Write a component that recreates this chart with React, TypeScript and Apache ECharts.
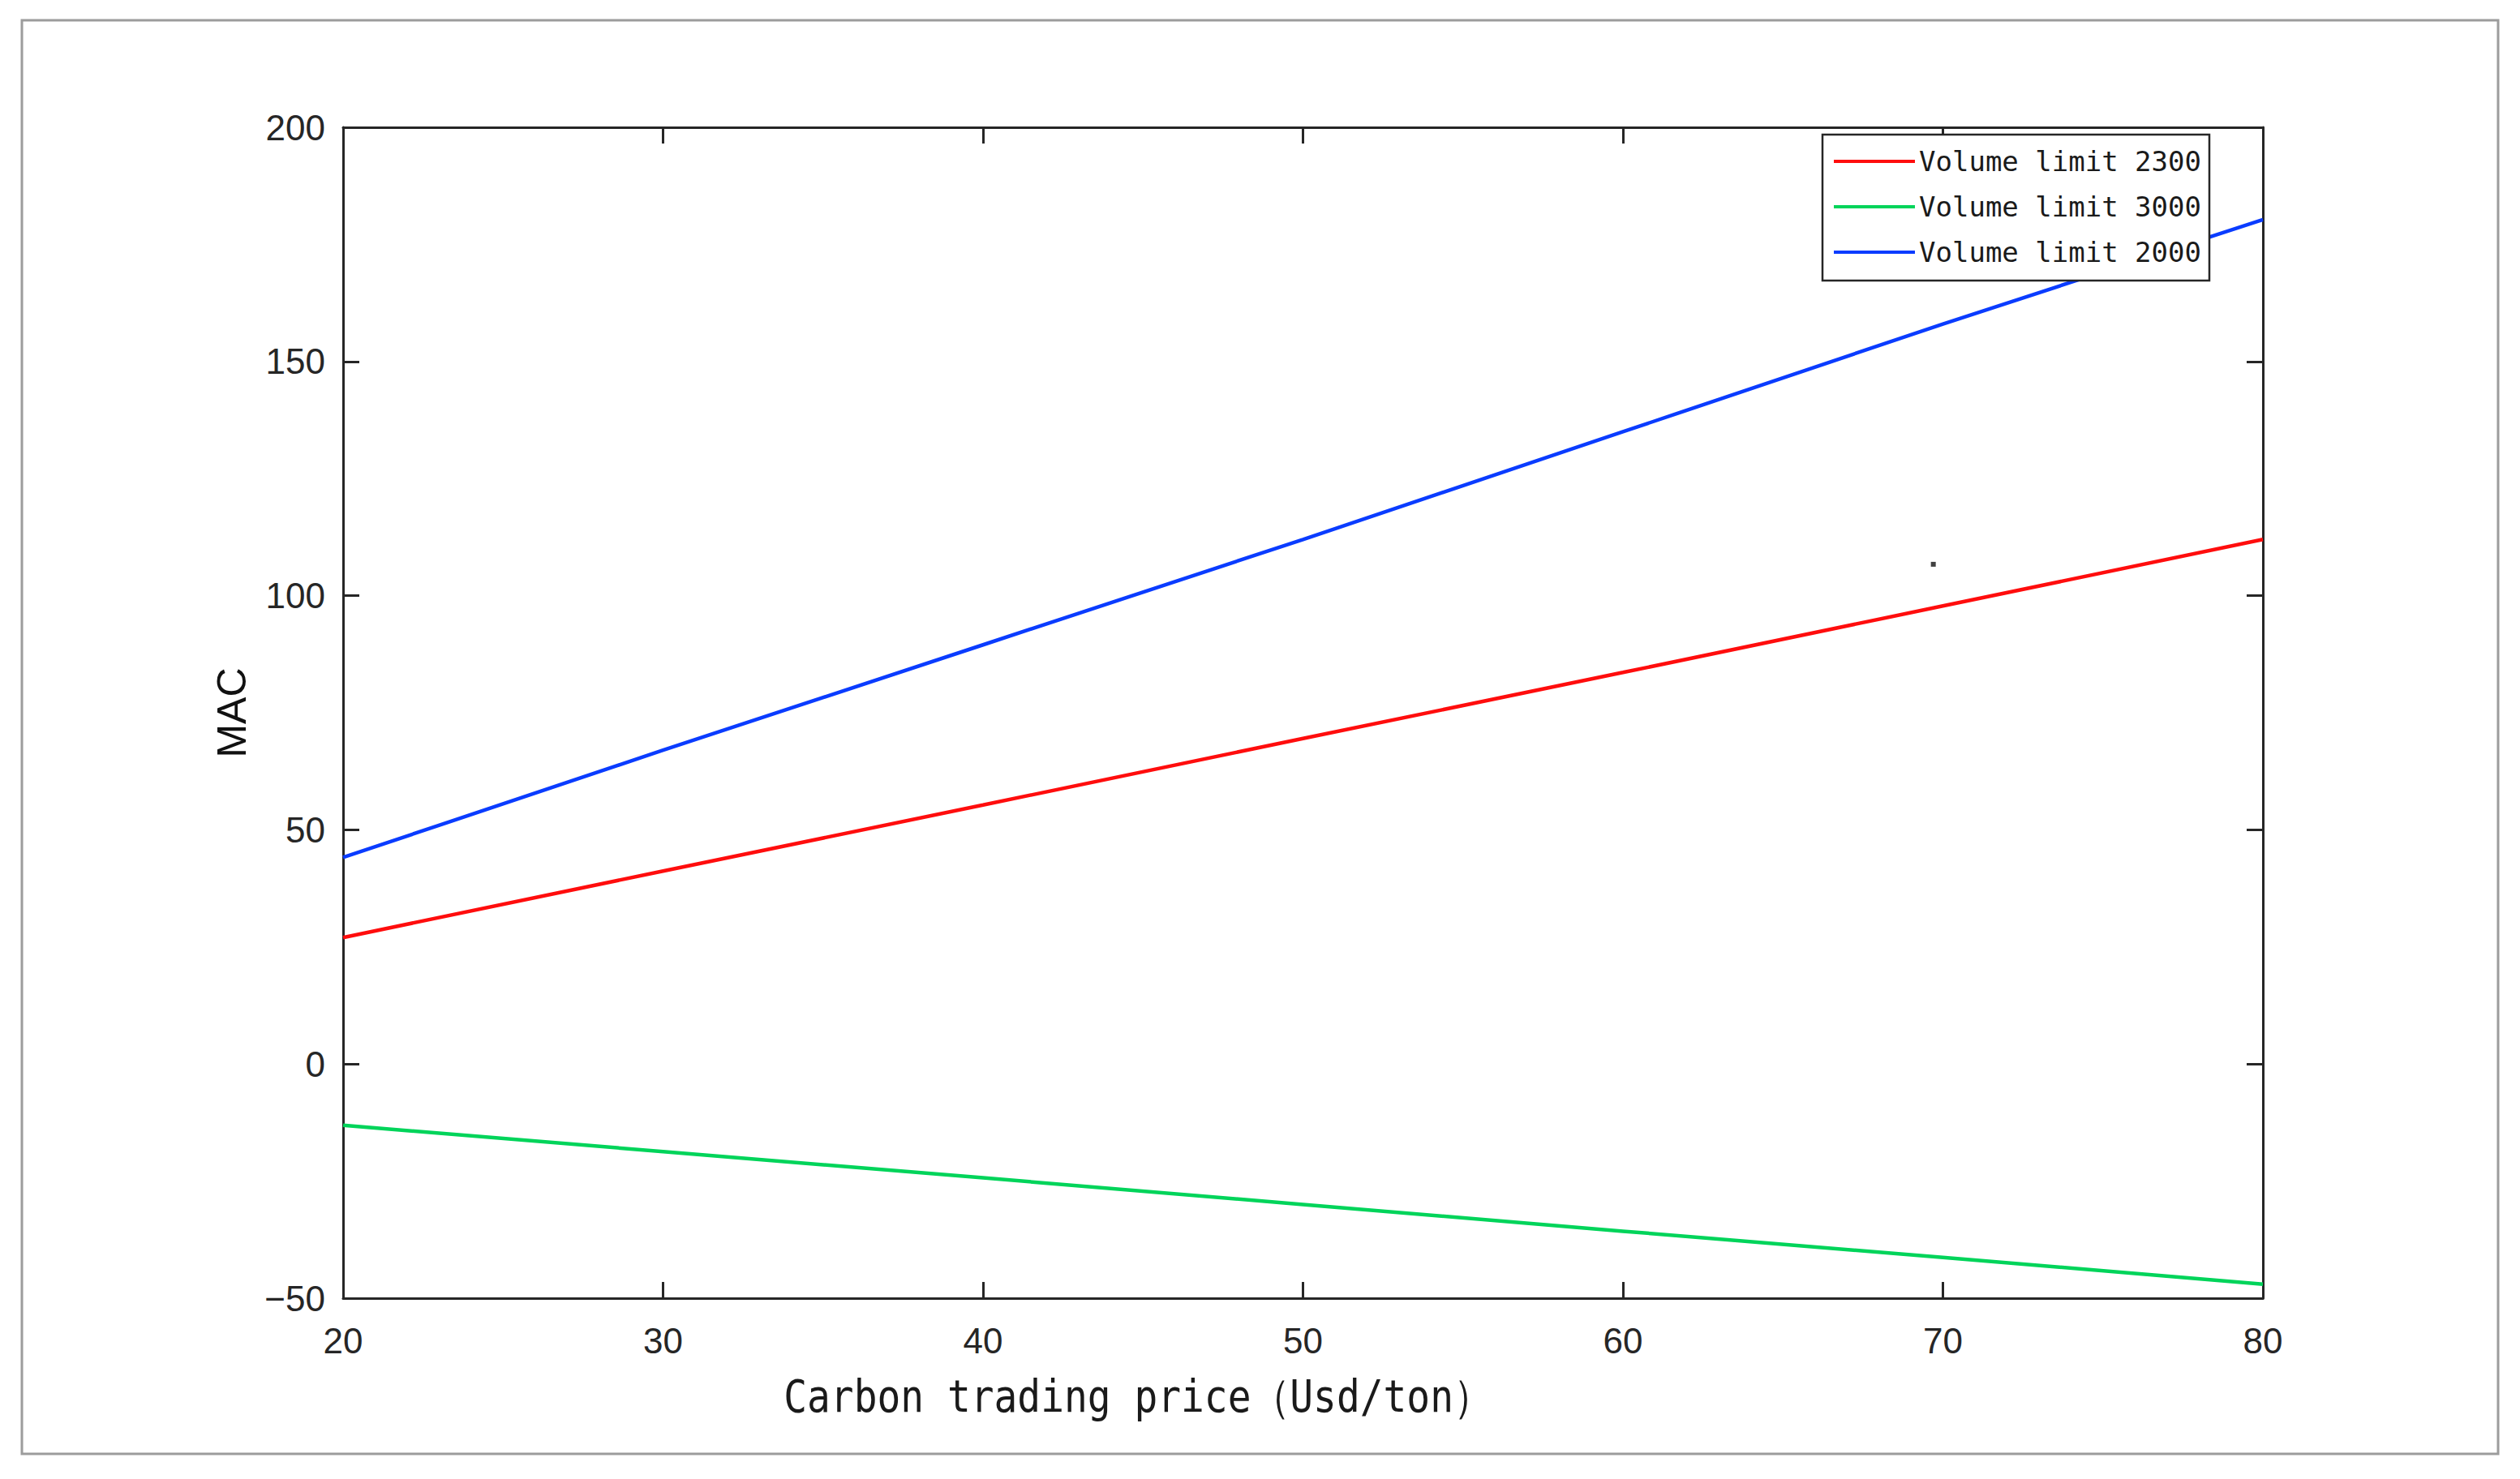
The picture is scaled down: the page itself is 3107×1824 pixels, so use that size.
import React, { useEffect, useRef } from "react";
import * as echarts from "echarts";

const prices = [20, 30, 40, 50, 60, 70, 80];
const limit2300 = [27.0, 41.2, 55.3, 69.5, 83.6, 97.8, 112.0];
const limit3000 = [-13.1, -18.7, -24.3, -30.0, -35.7, -41.3, -47.0];
const limit2000 = [44.1, 67.0, 89.5, 112.0, 135.0, 158.0, 180.3];
const seriesNames = ["Volume limit 2300", "Volume limit 3000", "Volume limit 2000"];
const seriesColors = ["#ff0d0d", "#00d45a", "#0a3cff"];
const strayPoint = [[69.7, 106.7]];
const xTitle = "Carbon trading price\uFF08Usd/ton\uFF09";
const yTitle = "MAC";

export default function App() {
  const ref = useRef<HTMLDivElement>(null);
  useEffect(() => {
    if (!ref.current) return;
    const chart = echarts.init(ref.current, null, { renderer: "svg" });
    const axisColor = "#262626";
    const labelFont = {
      fontFamily: "Liberation Sans",
      fontSize: 44,
      color: "#262626",
    };
    const pair = (vals: number[]) => prices.map((p, i) => [p, vals[i]]);
    const commonX = {
      type: "value" as const,
      min: 20,
      max: 80,
      interval: 10,
      axisLine: { show: true, lineStyle: { color: axisColor, width: 3 } },
      axisTick: { show: true, inside: true, length: 20, lineStyle: { color: axisColor, width: 3 } },
      splitLine: { show: false },
    };
    const commonY = {
      type: "value" as const,
      min: -50,
      max: 200,
      interval: 50,
      axisLine: { show: true, onZero: false, lineStyle: { color: axisColor, width: 3 } },
      axisTick: { show: true, inside: true, length: 20, lineStyle: { color: axisColor, width: 3 } },
      splitLine: { show: false },
    };
    const lines = [limit2300, limit3000, limit2000];
    chart.setOption({
      animation: false,
      backgroundColor: "#ffffff",
      grid: { left: 423, right: 317, top: 157, bottom: 223, containLabel: false },
      xAxis: [
        {
          ...commonX,
          position: "bottom",
          axisLine: { ...commonX.axisLine, onZero: false },
          axisLabel: { ...labelFont, margin: 30, formatter: (v: number) => String(v) },
        },
        {
          ...commonX,
          position: "top",
          axisLine: { ...commonX.axisLine, onZero: false },
          axisLabel: { show: false },
        },
      ],
      yAxis: [
        {
          ...commonY,
          position: "left",
          name: yTitle,
          nameLocation: "middle",
          nameRotate: 90,
          nameGap: 112,
          nameTextStyle: { fontFamily: "Liberation Sans", fontSize: 50, color: "#111111" },
          axisLabel: {
            ...labelFont,
            margin: 22,
            formatter: (v: number) => (v < 0 ? "\u2212" + Math.abs(v) : String(v)),
          },
        },
        {
          ...commonY,
          position: "right",
          axisLabel: { show: false },
        },
      ],
      legend: {
        data: seriesNames,
        orient: "vertical",
        left: 2247,
        top: 166,
        padding: [16, 10, 18, 14],
        icon: "rect",
        itemWidth: 100,
        itemHeight: 4,
        itemGap: 22,
        backgroundColor: "#ffffff",
        borderColor: "#262626",
        borderWidth: 2.5,
        textStyle: { fontFamily: "DejaVu Sans Mono", fontSize: 34, color: "#1a1a1a" },
      },
      series: [
        ...lines.map((vals, i) => ({
          name: seriesNames[i],
          type: "line",
          xAxisIndex: 0,
          yAxisIndex: 0,
          data: pair(vals),
          symbol: "none",
          showSymbol: false,
          color: seriesColors[i],
          itemStyle: { color: seriesColors[i] },
          lineStyle: { color: seriesColors[i], width: 4.5 },
          z: 3,
        })),
        {
          name: "point",
          type: "scatter",
          xAxisIndex: 0,
          yAxisIndex: 0,
          data: strayPoint,
          symbol: "rect",
          symbolSize: 6,
          itemStyle: { color: "#111111" },
          silent: true,
        },
      ],
      graphic: [
        {
          type: "rect",
          silent: true,
          z: -10,
          shape: { x: 27, y: 25, width: 3053, height: 1768 },
          style: { fill: "none", stroke: "#9c9c9c", lineWidth: 3 },
        },
        {
          type: "text",
          x: 1403,
          y: 1722,
          scaleX: 0.855,
          style: {
            text: xTitle,
            x: 0,
            y: 0,
            align: "center",
            verticalAlign: "middle",
            fontFamily: "DejaVu Sans Mono",
            fontSize: 56,
            fill: "#1a1a1a",
          },
        },
      ],
    });
    return () => chart.dispose();
  }, []);
  return (
    <div
      ref={ref}
      style={{ position: "absolute", left: 0, top: 0, width: 3107, height: 1824 }}
    />
  );
}
